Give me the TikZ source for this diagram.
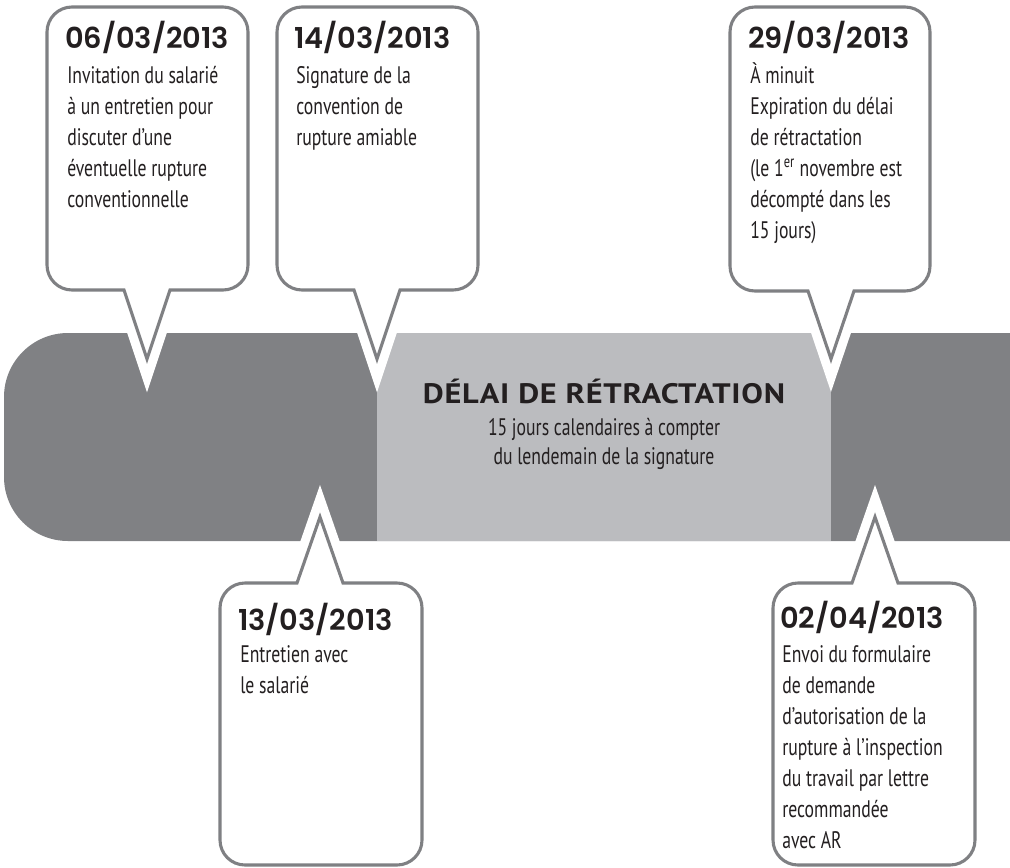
\documentclass[tikz,border=0pt]{standalone}
\usepackage{fontspec}
\setmainfont[FakeStretch=0.74]{PT Sans}
\newfontfamily\datefont{Poppins SemiBold}
\newfontfamily\titlefont[FakeStretch=1.15,LetterSpace=2.5]{PT Sans}
\definecolor{darkband}{HTML}{808184}
\definecolor{lightband}{HTML}{BBBCBF}
\definecolor{outline}{HTML}{7F8083}
\definecolor{ink}{HTML}{231F20}
\newcommand\mylinesl[1]{\begin{tabular}[t]{@{}l@{}}#1\end{tabular}}
\newcommand\mylinesc[1]{\begin{tabular}[t]{@{}c@{}}#1\end{tabular}}
\tikzset{
  halo/.style={draw=white, line width=15pt, miter limit=10, line join=miter},
  bubble/.style={draw=outline, fill=white, line width=2.2pt, line join=miter, miter limit=10},
  datetext/.style={anchor=base west, inner sep=0pt, text=ink, font=\datefont\fontsize{20.5}{24}\selectfont},
  bodytext/.style={anchor=base west, inner sep=0pt, text=ink, font=\fontsize{17}{22.05}\selectfont},
}
% down-pointing callout: L T R B tipx tipy style
\newcommand\mycalldown[7]{%
  \path[#7] (#5+23,-#4) -- (#3-25,-#4) arc[start angle=-90,end angle=0,radius=25]
    -- (#3,-#2-25) arc[start angle=0,end angle=90,radius=25]
    -- (#1+25,-#2) arc[start angle=90,end angle=180,radius=25]
    -- (#1,-#4+25) arc[start angle=180,end angle=270,radius=25]
    -- (#5-23,-#4) -- (#5,-#6) -- cycle;}
% up-pointing callout: L T R B tipx tipy style
\newcommand\mycallup[7]{%
  \path[#7] (#5-23,-#2) -- (#1+25,-#2) arc[start angle=90,end angle=180,radius=25]
    -- (#1,-#4+25) arc[start angle=180,end angle=270,radius=25]
    -- (#3-25,-#4) arc[start angle=270,end angle=360,radius=25]
    -- (#3,-#2-25) arc[start angle=0,end angle=90,radius=25]
    -- (#5+23,-#2) -- (#5,-#6) -- cycle;}
\begin{document}
\begin{tikzpicture}[x=0.025cm,y=0.025cm]
\useasboundingbox (0,0) rectangle (1010,-867);
% band
\fill[darkband] (1010,-333) -- (68,-333) arc[start angle=90,end angle=180,radius=64]
  -- (4,-477) arc[start angle=180,end angle=270,radius=64] -- (1010,-541) -- cycle;
\fill[lightband] (377,-333) rectangle (831,-541);
% halos
\mycalldown{47}{7}{248}{290}{147}{359}{halo}
\mycalldown{277}{7}{478}{290}{377}{359}{halo}
\mycalldown{730}{7}{930}{291}{831}{359}{halo}
\mycallup{220}{583}{422}{865}{320}{517}{halo}
\mycallup{773}{583}{975}{865}{875}{517}{halo}
% callouts
\mycalldown{47}{7}{248}{290}{147}{359}{bubble}
\mycalldown{277}{7}{478}{290}{377}{359}{bubble}
\mycalldown{730}{7}{930}{291}{831}{359}{bubble}
\mycallup{220}{583}{422}{865}{320}{517}{bubble}
\mycallup{773}{583}{975}{865}{875}{517}{bubble}
% texts
\node[datetext] (d1) at (65,-49) {06/03/2013};
\node[bodytext] (b1) at (67,-83) {\mylinesl{Invitation du salarié\\à un entretien pour\\discuter d’une\\éventuelle rupture\\conventionnelle}};
\node[datetext] (d2) at (294,-49) {14/03/2013};
\node[bodytext] (b2) at (296,-83) {\mylinesl{Signature de la\\convention de\\rupture amiable}};
\node[datetext] (d3) at (748,-49) {29/03/2013};
\node[bodytext] (b3) at (750,-83) {\mylinesl{À minuit\\Expiration du délai\\de rétractation\\(le 1\textsuperscript{er} novembre est\\décompté dans les\\15 jours)}};
\node[datetext] (d4) at (238,-630) {13/03/2013};
\node[bodytext] (b4) at (240,-662) {\mylinesl{Entretien avec\\le salarié}};
\node[datetext] (d5) at (780,-628) {02/04/2013};
\node[bodytext] (b5) at (782,-662) {\mylinesl{Envoi du formulaire\\de demande\\d’autorisation de la\\rupture à l’inspection\\du travail par lettre\\recommandée\\avec AR}};
\node[anchor=base, inner sep=0pt, text=ink, font=\titlefont\bfseries\fontsize{20}{22}\selectfont] (t) at (604,-403) {DÉLAI DE RÉTRACTATION};
\node[anchor=base, inner sep=0pt, text=ink, font=\fontsize{17}{21.3}\selectfont] (s) at (604,-435) {\mylinesc{15 jours calendaires à compter\\du lendemain de la signature}};
\end{tikzpicture}
\end{document}
